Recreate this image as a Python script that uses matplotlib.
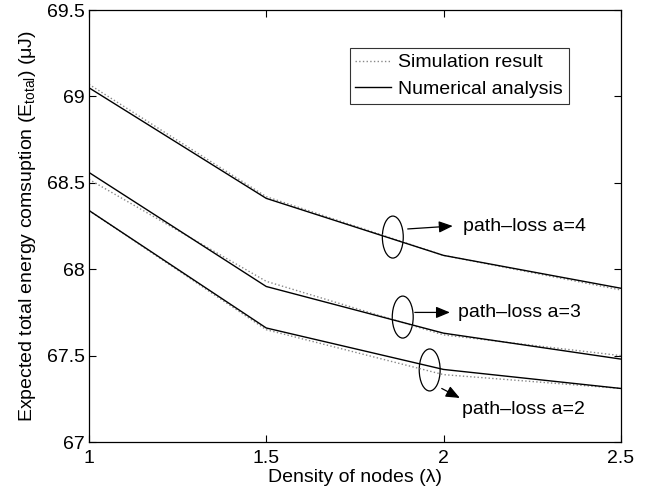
import matplotlib
matplotlib.use("Agg")
import matplotlib.pyplot as plt
from matplotlib.patches import Ellipse

plt.rcParams['font.family'] = ['Liberation Sans', 'DejaVu Sans']
plt.rcParams['mathtext.default'] = 'regular'

# ── data ──────────────────────────────────────────────────────────
density = [1.0, 1.5, 2.0, 2.5]

num_a4 = [69.05, 68.41, 68.08, 67.89]
sim_a4 = [69.07, 68.42, 68.08, 67.88]
num_a3 = [68.56, 67.90, 67.63, 67.48]
sim_a3 = [68.52, 67.93, 67.62, 67.50]
num_a2 = [68.34, 67.66, 67.42, 67.31]
sim_a2 = [68.34, 67.65, 67.39, 67.31]

labels = ["path\u2013loss a=4", "path\u2013loss a=3", "path\u2013loss a=2"]

fig = plt.figure(figsize=(6.59, 4.93), dpi=100)
ax = fig.add_axes([0.135, 0.1034, 0.807, 0.8763])

for sim, num in ((sim_a4, num_a4), (sim_a3, num_a3), (sim_a2, num_a2)):
    ax.plot(density, sim, linestyle=':', color='#888888', linewidth=1.0)
    ax.plot(density, num, linestyle='-', color='black', linewidth=1.0)

# legend handles
ax.plot([], [], linestyle=':', color='#888888', linewidth=1.0, label='Simulation result')
ax.plot([], [], linestyle='-', color='black', linewidth=1.0, label='Numerical analysis')
leg = ax.legend(handles=ax.lines[-2:], loc='upper left', bbox_to_anchor=(0.49, 0.912),
                fontsize=14, frameon=True, fancybox=False, edgecolor='black',
                handlelength=1.85, handletextpad=0.35, borderpad=0.3,
                labelspacing=0.45, borderaxespad=0)
leg.get_frame().set_linewidth(0.8)

# ellipses + arrows marking each pair
ell_centres = [(1.857, 68.186), (1.885, 67.723), (1.961, 67.417)]
arrow_from = [(1.899, 68.233), (1.919, 67.75), (1.995, 67.31)]
arrow_to = [(2.026, 68.25), (2.018, 67.75), (2.046, 67.255)]
text_pos = [(2.054, 68.25), (2.040, 67.75), (2.052, 67.187)]

for c, a0, a1, tp, lab in zip(ell_centres, arrow_from, arrow_to, text_pos, labels):
    ax.add_patch(Ellipse(c, 0.059, 0.243, fill=False, edgecolor='black', linewidth=0.9))
    ax.annotate('', xy=a1, xytext=a0,
                arrowprops=dict(arrowstyle='-|>,head_length=0.6,head_width=0.25',
                                color='black', lw=0.9,
                                mutation_scale=14, shrinkA=0, shrinkB=0))
    ax.text(tp[0], tp[1], lab, fontsize=14, va='center', ha='left')

ax.set_xlim(1, 2.5)
ax.set_ylim(67, 69.5)
ax.set_xticks([1, 1.5, 2, 2.5])
ax.set_xticklabels(['1', '1.5', '2', '2.5'])
ax.set_yticks([67, 67.5, 68, 68.5, 69, 69.5])
ax.set_yticklabels(['67', '67.5', '68', '68.5', '69', '69.5'])
ax.tick_params(direction='in', top=True, right=True, labelsize=14, length=5, pad=3)
ax.tick_params(axis='x', pad=6)
for s in ax.spines.values():
    s.set_linewidth(0.9)

ax.set_xlabel('Density of nodes (\u03bb)', fontsize=14, labelpad=1)
ax.set_ylabel('Expected total energy comsuption (E$_{total}$) (\u03bcJ)', fontsize=14, labelpad=6)

fig.savefig("out.png", dpi=100)
